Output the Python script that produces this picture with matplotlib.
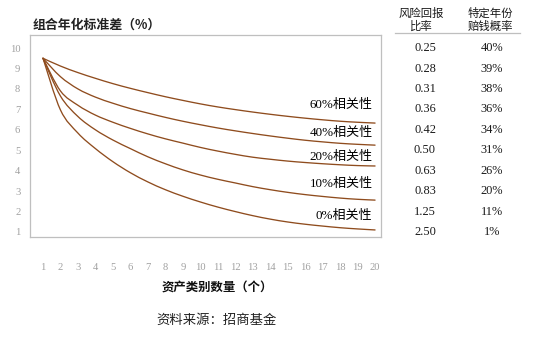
import matplotlib
matplotlib.use("Agg")
import matplotlib.pyplot as plt
import matplotlib.transforms as mtransforms
from matplotlib.path import Path
from matplotlib.patches import PathPatch

# number of asset classes in the portfolio
n_assets = list(range(1, 21))

# annualised portfolio std dev (%) for each pairwise correlation level
corr_60 = [9.5, 9.12, 8.8, 8.52, 8.26, 8.03, 7.82, 7.62, 7.44, 7.27,
           7.12, 6.99, 6.87, 6.76, 6.66, 6.57, 6.49, 6.42, 6.37, 6.33]
corr_40 = [9.5, 8.6, 8.0, 7.6, 7.3, 7.04, 6.82, 6.61, 6.42, 6.25,
           6.09, 5.95, 5.82, 5.7, 5.59, 5.49, 5.41, 5.34, 5.29, 5.25]
corr_20 = [9.5, 7.9, 7.2, 6.72, 6.37, 6.07, 5.8, 5.56, 5.35, 5.14,
           4.96, 4.8, 4.66, 4.56, 4.47, 4.4, 4.34, 4.29, 4.25, 4.23]
corr_10 = [9.5, 7.65, 6.65, 6.0, 5.5, 5.08, 4.68, 4.34, 4.04, 3.79,
           3.58, 3.4, 3.22, 3.07, 2.94, 2.83, 2.74, 2.66, 2.6, 2.56]
corr_00 = [9.5, 6.97, 5.84, 5.08, 4.44, 3.9, 3.45, 3.07, 2.75, 2.47,
           2.22, 2.0, 1.8, 1.63, 1.49, 1.38, 1.29, 1.21, 1.15, 1.1]
curve_names = ["60%相关性", "40%相关性", "20%相关性", "10%相关性", "0%相关性"]

y_ticks = list(range(1, 11))

# side table: return/risk ratio and chance of a losing year, rows for 10..1
sharpe = ["0.25", "0.28", "0.31", "0.36", "0.42", "0.50", "0.63", "0.83", "1.25", "2.50"]
loss_prob = ["40%", "39%", "38%", "36%", "34%", "31%", "26%", "20%", "11%", "1%"]

W, H = 537, 340
LINE = "#8f4c1e"
GRID_GREY = "#bfbfbf"
TICK_GREY = "#a0a0a0"
CJK = "Noto Sans CJK SC"
SERIF_CJK = ["Liberation Serif", "Noto Sans CJK SC"]


def smooth_path(xs, ys):
    """Cubic bezier path through the points (spreadsheet-style smoothed line)."""
    pts = list(zip(xs, ys))
    verts = [pts[0]]
    codes = [Path.MOVETO]
    n = len(pts)
    for i in range(n - 1):
        p0 = pts[max(i - 1, 0)]
        p1 = pts[i]
        p2 = pts[i + 1]
        p3 = pts[min(i + 2, n - 1)]
        c1 = (p1[0] + (p2[0] - p0[0]) / 6, p1[1] + (p2[1] - p0[1]) / 6)
        c2 = (p2[0] - (p3[0] - p1[0]) / 6, p2[1] - (p3[1] - p1[1]) / 6)
        verts += [c1, c2, p2]
        codes += [Path.CURVE4] * 3
    return Path(verts, codes)


fig = plt.figure(figsize=(W / 100, H / 100), dpi=100)
ax = fig.add_axes([30 / W, 1 - 237 / H, 351 / W, 202 / H])

series = [corr_60, corr_40, corr_20, corr_10, corr_00]
for vals in series:
    ax.add_patch(PathPatch(smooth_path(n_assets, vals), facecolor="none",
                           edgecolor=LINE, linewidth=0.95, capstyle="round"))

ax.set_xlim(0.256, 20.34)
ax.set_ylim(0.755, 10.64)
ax.set_xticks(n_assets)
ax.set_yticks(y_ticks)
ax.set_xticklabels([str(v) for v in n_assets], family="Liberation Serif",
                   fontsize=7.6, color=TICK_GREY)
ax.set_yticklabels([str(v) for v in y_ticks], family="Liberation Serif",
                   fontsize=7.6, color=TICK_GREY)
ax.tick_params(axis="both", length=0)
ax.tick_params(axis="x", pad=19)
ax.tick_params(axis="y", pad=7)
for sp in ax.spines.values():
    sp.set_color(GRID_GREY)
    sp.set_linewidth(0.9)

# correlation labels, right aligned near the end of each curve
label_y = [7.21, 5.84, 4.67, 3.35, 1.78]
for name, ly in zip(curve_names, label_y):
    ax.text(19.85, ly, name, ha="right", va="center", fontsize=9.4,
            family=SERIF_CJK, color="black")

fig.text(33 / W, 1 - 25 / H, "组合年化标准差（%）", family=CJK, fontsize=9.3,
         fontweight="bold", color="#222222", va="center", ha="left")
fig.text(217 / W, 1 - 288 / H, "资产类别数量（个）", family=CJK, fontsize=8.9,
         fontweight="bold", color="#111111", va="center", ha="center")
fig.text(217 / W, 1 - 320 / H, "资料来源：招商基金", family=CJK, fontsize=9.6,
         color="#222222", va="center", ha="center")

# side table rows share the y scale of the chart (row i sits at y = 10 - i)
row_tf = mtransforms.blended_transform_factory(fig.transFigure, ax.transData)
for i, (s, p) in enumerate(zip(sharpe, loss_prob)):
    yv = 10 - i
    for xpix, txt in ((425, s), (492, p)):
        t = ax.text(xpix / W, yv, txt, transform=row_tf, ha="center", va="center",
                    fontsize=8.9, family="Liberation Serif", color="#1a1a1a")
        t.set_clip_on(False)

fig.text(421 / W, 1 - 20 / H, "风险回报\n比率", family=CJK, fontsize=8.2,
         color="#1a1a1a", ha="center", va="center", linespacing=1.2)
fig.text(490 / W, 1 - 20 / H, "特定年份\n赔钱概率", family=CJK, fontsize=8.2,
         color="#1a1a1a", ha="center", va="center", linespacing=1.2)
fig.add_artist(plt.Line2D([395 / W, 520 / W], [1 - 33 / H, 1 - 33 / H],
                          color=GRID_GREY, linewidth=0.9))

fig.savefig("out.png", dpi=100, facecolor="white")
